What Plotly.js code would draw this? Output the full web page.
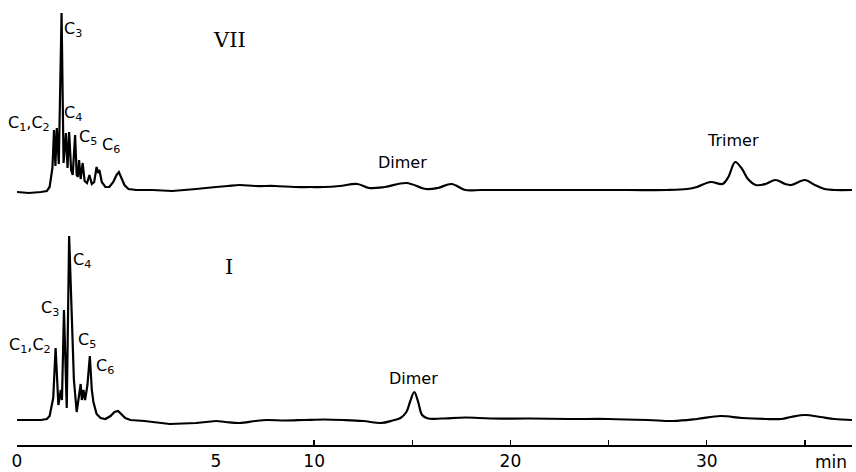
<!DOCTYPE html>
<html>
<head>
<meta charset="utf-8">
<script src="https://cdn.plot.ly/plotly-3.0.1.min.js"></script>
<style>html,body{margin:0;padding:0;background:#fff;}#chart{width:856px;height:472px;}</style>
</head>
<body>
<div id="chart"></div>
<script>
// Retention time (min) and detector signal (arbitrary units)
// Chromatogram VII (upper trace)
const topEarlyT = [0, 0.3, 0.6, 0.75, 0.82, 0.86, 0.89, 0.93, 0.965, 1.00, 1.05, 1.12, 1.17, 1.23, 1.27, 1.31, 1.36, 1.40, 1.46, 1.50, 1.53, 1.56, 1.60, 1.65, 1.70, 1.76, 1.82, 1.88, 1.94, 2.00, 2.035, 2.07, 2.13, 2.22, 2.32, 2.42, 2.50, 2.56, 2.62, 2.70, 2.80, 3.0, 3.4, 3.9, 4.5, 5.0];
const topEarlyV = [0, -1, 0, 1, 5, 14, 24, 62, 26, 64, 28, 179, 29, 59, 24, 60, 22, 17, 57, 17, 15, 32, 13, 29, 11, 9, 17, 8, 10, 25, 19, 22, 10, 5, 5, 10, 17, 20, 15, 7, 3, 2, 2, 1, 3, 5];
const topLateT = [5.0, 5.6, 6.2, 7.0, 8.0, 9.0, 9.8, 10.5, 11.3, 12.2, 12.8, 13.6, 14.7, 15.7, 16.3, 17.0, 17.7, 18.5, 20, 22, 24, 26, 28, 29.0, 29.5, 30.2, 30.8, 31.1, 31.45, 31.8, 32.1, 32.5, 33.0, 33.5, 34.0, 34.3, 35.0, 35.5, 36.0, 36.5, 37.4];
const topLateV = [5, 6, 7, 6, 6, 5, 5, 5, 6, 8, 4, 5, 9, 3, 4, 8, 2, 2, 2, 2, 2, 2, 2, 3, 5, 10, 8, 15, 30, 23, 13, 7, 8, 12, 8, 7, 12, 7, 3, 2, 2];

// Chromatogram I (lower trace)
const botEarlyT = [0, 0.3, 0.6, 0.75, 0.82, 0.86, 0.91, 0.97, 1.04, 1.10, 1.13, 1.18, 1.25, 1.31, 1.37, 1.39, 1.43, 1.50, 1.56, 1.60, 1.63, 1.67, 1.71, 1.77, 1.83, 1.88, 1.92, 2.00, 2.10, 2.22, 2.35, 2.45, 2.54, 2.62, 2.72, 2.85, 3.2, 3.84, 4.5, 5.0];
const botEarlyV = [0, 0, 0, 1, 4, 12, 22, 72, 15, 30, 20, 110, 12, 184, 100, 75, 40, 8, 25, 36, 20, 30, 20, 35, 64, 30, 18, 6, 2, 1, 4, 8, 9, 6, 2, 0, -1, -4, -3, -1];
const botLateT = [5.0, 5.5, 6.2, 7.0, 7.6, 8.5, 9.5, 10.5, 11.5, 12.5, 13.4, 14.0, 14.4, 14.7, 14.9, 15.1, 15.3, 15.5, 15.8, 16.5, 17.7, 19, 21, 23, 25, 27, 28.3, 29.5, 30.7, 31.8, 33.0, 33.8, 34.3, 35.0, 35.8, 36.5, 37.4];
const botLateV = [-1, -2, -3, -1, 0, -0.5, 0, 0.5, 0, -1, -3, -0.5, 2, 8, 19, 28, 18, 5, 1.5, 1.5, 2.5, 1.5, 1.5, 1, 1, 0, -1, 1, 4, 2, 1, 1, 3, 5, 3, 1, 0];

// Axis ticks
const earlyTicks = [0, 5];
const earlyTickText = ["0", "5"];
const lateTicks = [10, 15, 20, 25, 30, 35];
const lateTickText = ["10", "", "20", "", "30", ""];

// Labels
const topLabels = [
  {text: "C<sub>1</sub>,C<sub>2</sub>", t: 0.30, v: 69, ax: "x"},
  {text: "C<sub>3</sub>", t: 1.41, v: 163, ax: "x"},
  {text: "C<sub>4</sub>", t: 1.41, v: 79, ax: "x"},
  {text: "C<sub>5</sub>", t: 1.78, v: 55, ax: "x"},
  {text: "C<sub>6</sub>", t: 2.36, v: 47, ax: "x"},
  {text: "Dimer", t: 14.48, v: 30, ax: "x2"},
  {text: "Trimer", t: 31.34, v: 52, ax: "x2"}
];
const botLabels = [
  {text: "C<sub>1</sub>,C<sub>2</sub>", t: 0.33, v: 75, ax: "x"},
  {text: "C<sub>3</sub>", t: 0.83, v: 112, ax: "x"},
  {text: "C<sub>4</sub>", t: 1.63, v: 160, ax: "x"},
  {text: "C<sub>5</sub>", t: 1.76, v: 80, ax: "x"},
  {text: "C<sub>6</sub>", t: 2.21, v: 54, ax: "x"},
  {text: "Dimer", t: 15.04, v: 42, ax: "x2"}
];
const panelNames = [{text: "VII", t: 5.71, v: 152, y: "y2"}, {text: "I", t: 5.66, v: 153, y: "y"}];

const lineStyle = {color: "#000", width: 2.2};
const traces = [
  {x: topEarlyT, y: topEarlyV, xaxis: "x", yaxis: "y2", mode: "lines", line: lineStyle, hoverinfo: "skip"},
  {x: topLateT, y: topLateV, xaxis: "x2", yaxis: "y2", mode: "lines", line: Object.assign({shape: "spline", smoothing: 1}, lineStyle), hoverinfo: "skip"},
  {x: botEarlyT, y: botEarlyV, xaxis: "x", yaxis: "y", mode: "lines", line: lineStyle, hoverinfo: "skip"},
  {x: botLateT, y: botLateV, xaxis: "x2", yaxis: "y", mode: "lines", line: Object.assign({shape: "spline", smoothing: 1}, lineStyle), hoverinfo: "skip"}
];

const labelFont = {family: "DejaVu Sans, Liberation Sans, sans-serif", size: 16, color: "#000"};
const annotations = [];
topLabels.forEach(l => annotations.push({text: l.text, x: l.t, y: l.v, xref: l.ax, yref: "y2", showarrow: false, font: labelFont, xanchor: "center", yanchor: "middle"}));
botLabels.forEach(l => annotations.push({text: l.text, x: l.t, y: l.v, xref: l.ax, yref: "y", showarrow: false, font: labelFont, xanchor: "center", yanchor: "middle"}));
panelNames.forEach(p => annotations.push({text: p.text, x: p.t, y: p.v, xref: "x2", yref: p.y, showarrow: false, font: {family: "DejaVu Serif, Liberation Serif, serif", size: 21, color: "#000"}, xanchor: "center", yanchor: "middle"}));
annotations.push({text: "min", x: 0.975, y: -0.039, xref: "paper", yref: "paper", showarrow: false, font: {family: "DejaVu Sans, sans-serif", size: 17, color: "#000"}, xanchor: "center", yanchor: "middle"});

const split = 0.2383;
const axCommon = {showgrid: false, zeroline: false, showline: true, linecolor: "#000", linewidth: 2, ticks: "inside", ticklen: 5, tickwidth: 1.5, tickcolor: "#000", tickmode: "array", tickfont: {family: "DejaVu Sans, sans-serif", size: 17, color: "#000"}, fixedrange: true};
const layout = {
  width: 856, height: 472,
  margin: {l: 17, r: 4, t: 5, b: 27},
  paper_bgcolor: "#fff", plot_bgcolor: "#fff",
  showlegend: false,
  xaxis: Object.assign({}, axCommon, {domain: [0, split], range: [0, 5], tickvals: earlyTicks, ticktext: earlyTickText, anchor: "y"}),
  xaxis2: Object.assign({}, axCommon, {domain: [split, 1], range: [5, 37.4], tickvals: lateTicks, ticktext: lateTickText, anchor: "y"}),
  yaxis: {domain: [0, 0.5], range: [-25, 195], visible: false, fixedrange: true, anchor: "x"},
  yaxis2: {domain: [0.5, 1], range: [-33, 187], visible: false, fixedrange: true, anchor: "x"},
  annotations: annotations
};
Plotly.newPlot("chart", traces, layout, {staticPlot: true, displayModeBar: false});
</script>
</body>
</html>
